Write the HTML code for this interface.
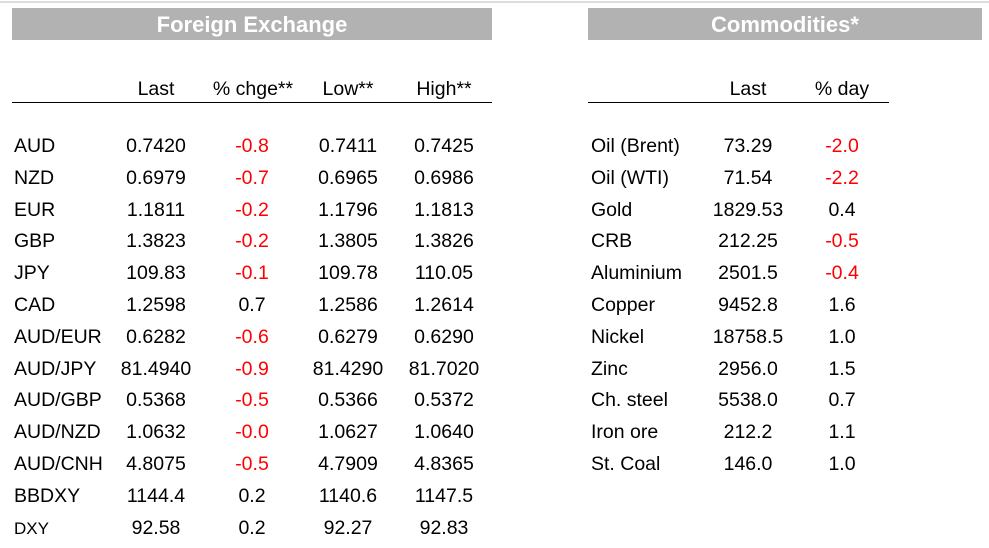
<!DOCTYPE html>
<html><head><meta charset="utf-8"><style>
body{margin:0;width:989px;height:548px;background:#fff;position:relative;overflow:hidden;font-family:"Liberation Sans",Arial,sans-serif;color:#000}
.bar{position:absolute;top:8px;height:32px;background:#b2b2b2;color:#fff;font-weight:bold;font-size:22px;line-height:34px;text-align:center}
.c{position:absolute;font-size:19.5px;line-height:20px;height:20px;white-space:nowrap}
.ctr{text-align:center;width:120px}
.rule{position:absolute;height:1px;background:#000}
.neg{color:#ff0000}
</style></head><body>
<div style="position:absolute;left:0;top:1px;width:989px;height:2px;background:#ddd"></div>
<div class="bar" style="left:12px;width:480px">Foreign Exchange</div>
<div class="bar" style="left:588px;width:394px">Commodities*</div>
<div class="rule" style="left:12px;top:102px;width:480px"></div>
<div class="rule" style="left:588px;top:102px;width:301px"></div>
<div id="root"></div>
<script>
const fxNames=["AUD","NZD","EUR","GBP","JPY","CAD","AUD/EUR","AUD/JPY","AUD/GBP","AUD/NZD","AUD/CNH","BBDXY","DXY"];
const fxLast=["0.7420","0.6979","1.1811","1.3823","109.83","1.2598","0.6282","81.4940","0.5368","1.0632","4.8075","1144.4","92.58"];
const fxChg=["-0.8","-0.7","-0.2","-0.2","-0.1","0.7","-0.6","-0.9","-0.5","-0.0","-0.5","0.2","0.2"];
const fxLow=["0.7411","0.6965","1.1796","1.3805","109.78","1.2586","0.6279","81.4290","0.5366","1.0627","4.7909","1140.6","92.27"];
const fxHigh=["0.7425","0.6986","1.1813","1.3826","110.05","1.2614","0.6290","81.7020","0.5372","1.0640","4.8365","1147.5","92.83"];
const cmNames=["Oil (Brent)","Oil (WTI)","Gold","CRB","Aluminium","Copper","Nickel","Zinc","Ch. steel","Iron ore","St. Coal"];
const cmLast=["73.29","71.54","1829.53","212.25","2501.5","9452.8","18758.5","2956.0","5538.0","212.2","146.0"];
const cmDay=["-2.0","-2.2","0.4","-0.5","-0.4","1.6","1.0","1.5","0.7","1.1","1.0"];
const root=document.getElementById('root');
function cell(txt,x,y,center,name,extra){
  const d=document.createElement('div');
  d.className='c'+(center?' ctr':'')+(txt.startsWith('-')?' neg':'');
  d.textContent=txt;
  d.style.left=(center?x-60:x)+'px';
  d.style.top=(y-10)+'px';
  if(extra){d.style.fontSize=extra;d.style.lineHeight='22px';}
  
  
  root.appendChild(d);
}
const hy=89;
cell("Last",156,hy,true,'fx-header-last');
cell("% chge**",253,hy,true,'fx-header-chge');
cell("Low**",348,hy,true,'fx-header-low');
cell("High**",444,hy,true,'fx-header-high');
cell("Last",748,hy,true,'comm-header-last');
cell("% day",842,hy,true,'comm-header-day');
const y0=146,dy=31.8;
fxNames.forEach((n,i)=>{
  const y=Math.round(y0+i*dy);
  cell(n,14,y,false,'fx-name-cell',n==="DXY"?'17px':null);
  cell(fxLast[i],156,y,true,'fx-last-cell');
  cell(fxChg[i],252,y,true,'fx-chge-cell');
  cell(fxLow[i],348,y,true,'fx-low-cell');
  cell(fxHigh[i],444,y,true,'fx-high-cell');
});
cmNames.forEach((n,i)=>{
  const y=Math.round(y0+i*dy);
  cell(n,591,y,false,'comm-name-cell');
  cell(cmLast[i],748,y,true,'comm-last-cell');
  cell(cmDay[i],842,y,true,'comm-day-cell');
});
</script>
</body></html>
